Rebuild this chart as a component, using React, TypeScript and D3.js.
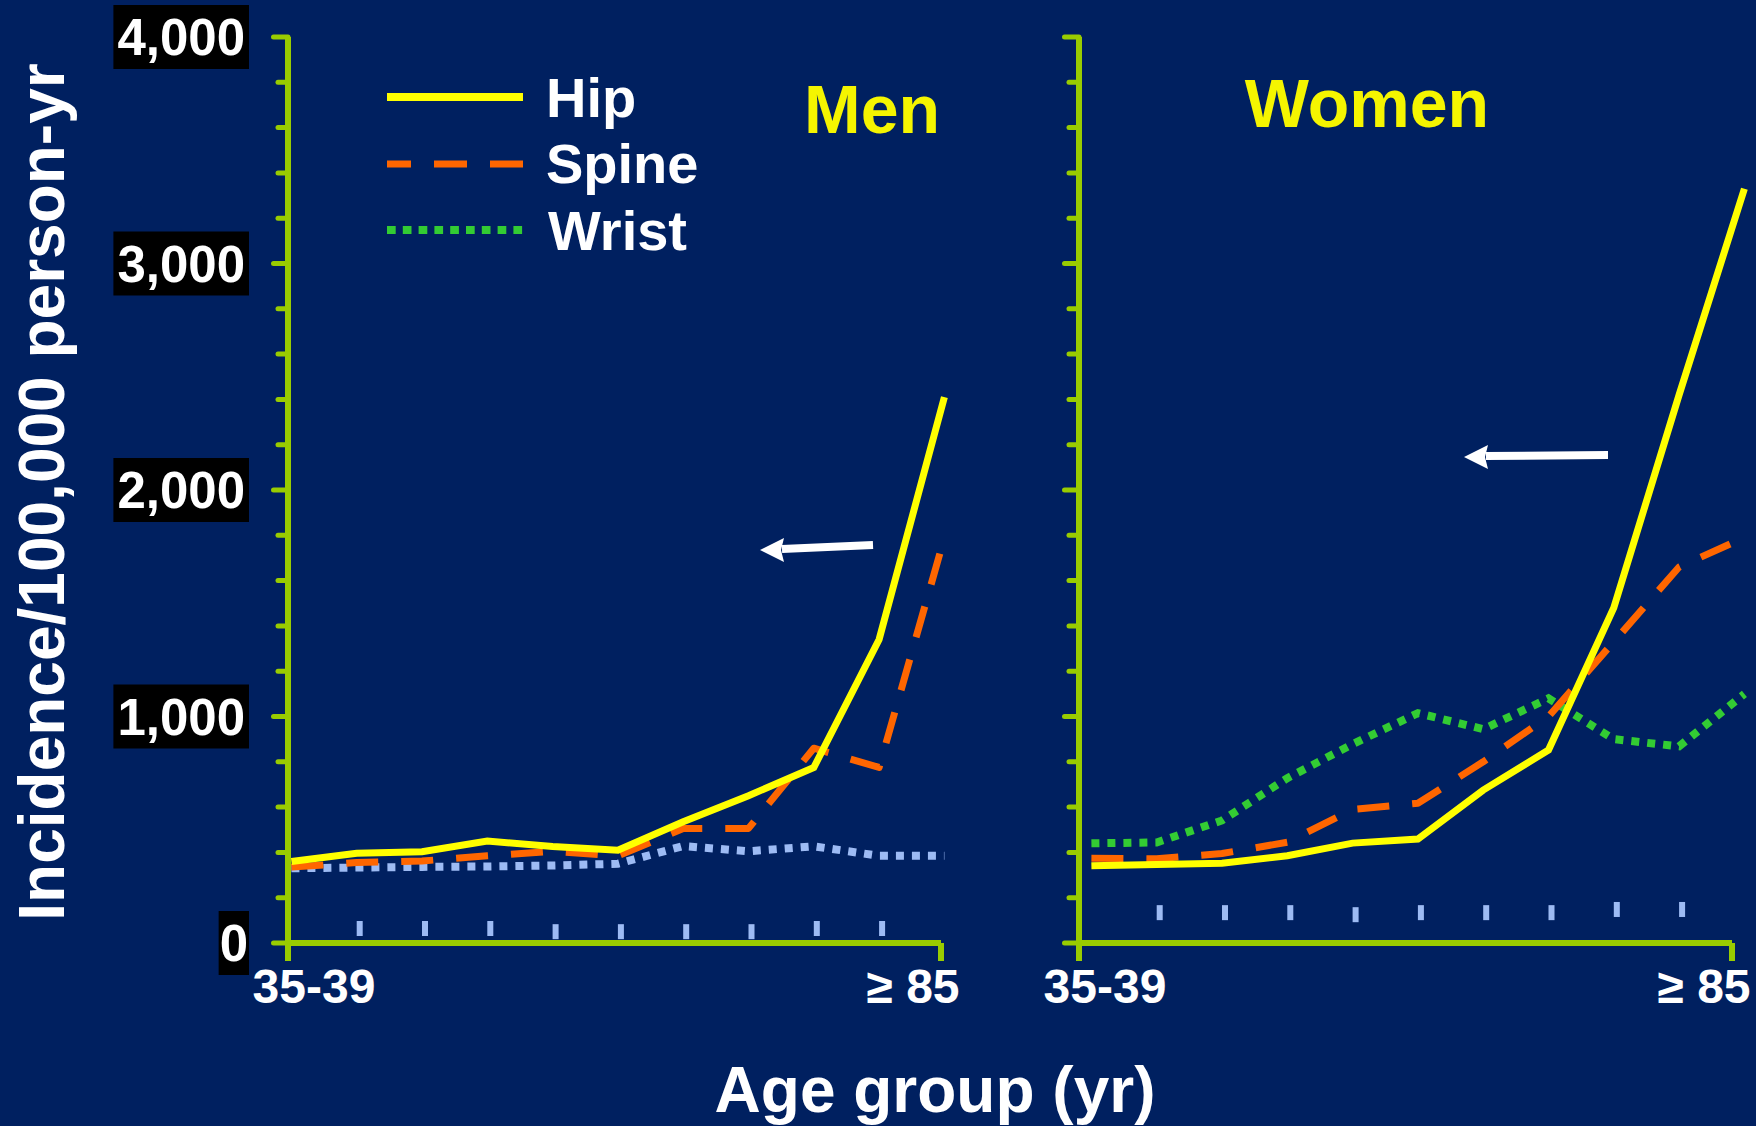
import React from "react";
import * as d3 from "d3";

// age groups on the x axis (only the first and last are labelled)
const ageGroups = ["35-39", "40-44", "45-49", "50-54", "55-59", "60-64", "65-69", "70-74", "75-79", "80-84", "≥ 85"];

// incidence per 100,000 person-yr
const menHip = [360, 396, 403, 450, 426, 410, 535, 650, 775, 1340, 2410];
const menSpine = [335, 355, 362, 385, 405, 385, 505, 506, 860, 775, 1790];
const menWrist = [330, 333, 336, 338, 342, 350, 428, 405, 427, 385, 385];

const womenHip = [341, 347, 352, 385, 441, 459, 675, 852, 1480, 2420, 3330];
const womenSpine = [374, 372, 395, 445, 590, 617, 800, 1000, 1330, 1660, 1790];
const womenWrist = [440, 444, 541, 728, 878, 1015, 944, 1080, 900, 868, 1100];

// the small light-blue marks near the bottom (age groups 2..10)
const menMarks = [64, 64, 64, 50, 50, 50, 50, 64, 64];
const womenMarks = [134, 134, 134, 125, 134, 134, 134, 148, 148];

const yTickLabels = [0, 1000, 2000, 3000, 4000];
const yMax = 4000;
const minorStep = 200;

const BG = "#002060";
const AXIS = "#99CC00";
const HIP = "#FFFF00";
const SPINE = "#FF6600";
const WRIST = "#33CC33";
const PALE = "#9DBBF4";
const FONT = "'Liberation Sans', Arial, Helvetica, sans-serif";

const W = 1756;
const H = 1126;

const y = d3.scaleLinear().domain([0, yMax]).range([943, 37]);

const fmt = d3.format(",");

const Panel = ({ axisX, dataX0, title, titleX, titleY, hip, spine, wrist, wristColor, marks, labels }) => {
  const axisLen = 653;
  const x = d3.scalePoint().domain(ageGroups).range([dataX0, dataX0 + axisLen]);
  const line = d3
    .line<number>()
    .x((d, i) => x(ageGroups[i]) as number)
    .y((d) => y(d));

  const ticks = d3.range(0, yMax + 1, minorStep);

  return (
    <g>
      {/* lines */}
      <path d={line(wrist) || ""} fill="none" stroke={wristColor} strokeWidth={8} strokeDasharray="8 8" />
      <path d={line(spine) || ""} fill="none" stroke={SPINE} strokeWidth={7} strokeDasharray="32 23" strokeLinejoin="round" />
      <path d={line(hip) || ""} fill="none" stroke={HIP} strokeWidth={7} strokeLinejoin="miter" />

      {marks.map((v, i) => (
        <rect key={i} x={x(ageGroups[i + 1]) as number} y={y(v) - 7.5} width={6} height={15} fill={PALE} />
      ))}

      {/* axes */}
      <line x1={axisX} x2={axisX} y1={y(yMax)} y2={961} stroke={AXIS} strokeWidth={6} />
      <line x1={axisX} x2={axisX + axisLen} y1={y(0)} y2={y(0)} stroke={AXIS} strokeWidth={6} />
      <line x1={axisX + axisLen} x2={axisX + axisLen} y1={y(0)} y2={961} stroke={AXIS} strokeWidth={6} />
      {ticks.map((t) => (
        <line
          key={t}
          x1={axisX - (t % 1000 === 0 ? 14.5 : 10)}
          x2={axisX}
          y1={y(t)}
          y2={y(t)}
          stroke={AXIS}
          strokeWidth={5}
          strokeLinecap="round"
        />
      ))}

      {labels &&
        yTickLabels.map((t) => {
          const s = fmt(t);
          const fs = 51;
          let em = 0;
          for (const c of s) em += c === "," ? 0.278 : 0.556;
          const tw = em * fs;
          const pad = t === 0 ? 1 : 4;
          return (
            <g key={t}>
              <rect x={249 - tw - 2 * pad} y={y(t) - 32} width={tw + 2 * pad} height={64} fill="#000" />
              <text x={249 - pad} y={y(t) + 18} textAnchor="end" fontSize={fs} fontWeight="bold" fill="#fff">
                {s}
              </text>
            </g>
          );
        })}

      <text x={axisX + 26} y={1003} textAnchor="middle" fontSize={48} fontWeight="bold" fill="#fff">
        {ageGroups[0]}
      </text>
      <text x={axisX + axisLen - 28} y={1003} textAnchor="middle" fontSize={48} fontWeight="bold" fill="#fff">
        {ageGroups[ageGroups.length - 1]}
      </text>

      <text x={titleX} y={titleY} textAnchor="middle" fontSize={68} fontWeight="bold" fill="#F5F500">
        {title}
      </text>
    </g>
  );
};

const Arrow = ({ tipX, tipY, endX, endY }) => {
  const headLen = 24;
  const half = 12;
  return (
    <g fill="#fff" stroke="none">
      <line x1={tipX + headLen - 2} y1={tipY - 1} x2={endX} y2={endY} stroke="#fff" strokeWidth={8} />
      <polygon points={`${tipX},${tipY} ${tipX + headLen},${tipY - half} ${tipX + headLen - 3},${tipY} ${tipX + headLen},${tipY + half}`} />
    </g>
  );
};

export default function App() {
  return (
    <svg
      width={W}
      height={H}
      viewBox={`0 0 ${W} ${H}`}
      style={{ position: "absolute", left: 0, top: 0, fontFamily: FONT }}
    >
      <rect width={W} height={H} fill={BG} />

      <text
        transform="translate(64,492) rotate(-90)"
        textAnchor="middle"
        fontSize={64}
        fontWeight="bold"
        fill="#fff"
      >
        Incidence/100,000 person-yr
      </text>

      <Panel
        axisX={288}
        dataX0={291.4}
        title="Men"
        titleX={872}
        titleY={133}
        hip={menHip}
        spine={menSpine}
        wrist={menWrist}
        wristColor={PALE}
        marks={menMarks}
        labels={true}
      />
      <Panel
        axisX={1079}
        dataX0={1091.4}
        title="Women"
        titleX={1367}
        titleY={127}
        hip={womenHip}
        spine={womenSpine}
        wrist={womenWrist}
        wristColor={WRIST}
        marks={womenMarks}
        labels={false}
      />

      {/* legend */}
      <g>
        <line x1={387} x2={523} y1={97} y2={97} stroke={HIP} strokeWidth={8} />
        <line x1={387} x2={523} y1={164} y2={164} stroke={SPINE} strokeWidth={7} strokeDasharray="24 23 33 23 33" />
        <line x1={387} x2={523} y1={230} y2={230} stroke={WRIST} strokeWidth={8} strokeDasharray="8.7 7.1" />
        <text x={546} y={117} fontSize={56} fontWeight="bold" fill="#fff">Hip</text>
        <text x={546} y={183} fontSize={56} fontWeight="bold" fill="#fff">Spine</text>
        <text x={548} y={250} fontSize={56} fontWeight="bold" fill="#fff">Wrist</text>
      </g>

      <Arrow tipX={760} tipY={550} endX={873} endY={545} />
      <Arrow tipX={1464} tipY={457} endX={1608} endY={455} />

      <text x={935} y={1112} textAnchor="middle" fontSize={64} fontWeight="bold" fill="#fff">
        Age group (yr)
      </text>
    </svg>
  );
}
